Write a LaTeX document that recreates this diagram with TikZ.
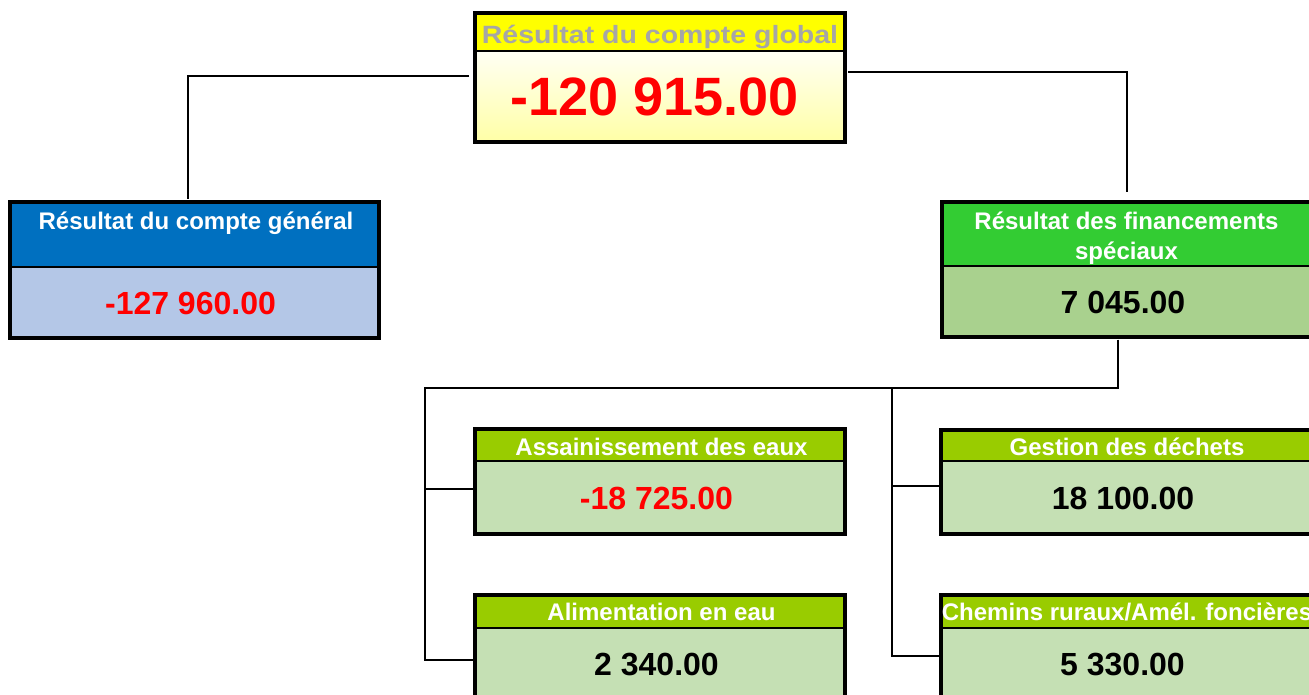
\documentclass[tikz,border=0pt]{standalone}
\usepackage{fontspec}
\setmainfont{Liberation Sans}
\usetikzlibrary{calc}
\definecolor{gyellow}{HTML}{FFFF00}
\definecolor{ggray}{HTML}{A6A6A6}
\definecolor{yelTop}{HTML}{FFFFF4}
\definecolor{yelBot}{HTML}{FFFFA6}
\definecolor{blueH}{HTML}{0070C0}
\definecolor{blueV}{HTML}{B4C7E7}
\definecolor{greenH}{HTML}{33CC33}
\definecolor{greenV}{HTML}{A9D18E}
\definecolor{limeH}{HTML}{99CC00}
\definecolor{limeV}{HTML}{C5E0B4}
\definecolor{redT}{HTML}{FF0000}
\tikzset{
  cell/.style={anchor=north west, inner sep=0pt, outer sep=0pt, draw=none, minimum width=370pt},
  rcell/.style={cell, minimum width=373pt},
  frame/.style={line width=3.2pt, draw=black},
  divider/.style={line width=2pt, draw=black},
  conn/.style={line width=2.8pt, draw=black},
  htxt/.style={inner sep=0pt, text=white, font=\fontsize{24}{30.3}\selectfont\bfseries},
  vtxt/.style={inner sep=0pt, font=\fontsize{32}{36}\selectfont\bfseries},
}
\begin{document}
\begin{tikzpicture}[x=1pt,y=-1pt]
\useasboundingbox (0,0) rectangle (1309,695);

% ---------- top box ----------
\node[cell, fill=gyellow, minimum height=38pt] (gH) at (475,13) {};
\node[cell, top color=yelTop, bottom color=yelBot, minimum height=91pt] (gV) at (475,51) {};
\draw[frame] (gH.north west) rectangle (gV.south east);
\draw[divider] (gH.south west) -- (gH.south east);
\node[htxt, text=ggray, anchor=base, font=\fontsize{25}{30}\selectfont\bfseries] (gHt) at ($(gH.north)+(0,30.3)$) {\scalebox{1.14}[1]{Résultat du compte global}};
\node[vtxt, text=redT, font=\fontsize{54}{60}\selectfont\bfseries] (gVt) at ($(gV.center)+(-5.5,0.5)$) {-120 915.00};

% ---------- left box ----------
\node[cell, fill=blueH, minimum width=369pt, minimum height=65pt] (lH) at (10,202) {};
\node[cell, fill=blueV, minimum width=369pt, minimum height=71pt] (lV) at (10,267) {};
\draw[frame] (lH.north west) rectangle (lV.south east);
\draw[divider] (lH.south west) -- (lH.south east);
\node[htxt, anchor=base] (lHt) at ($(lH.north)+(1.5,27.3)$) {Résultat du compte général};
\node[vtxt, text=redT] (lVt) at ($(lV.center)+(-4,1)$) {-127 960.00};

% ---------- right box ----------
\node[rcell, fill=greenH, minimum height=64pt] (rH) at (942,202) {};
\node[rcell, fill=greenV, minimum height=71pt] (rV) at (942,266) {};
\draw[frame] (rH.north west) rectangle (rV.south east);
\draw[divider] (rH.south west) -- (rH.south east);
\node[htxt, anchor=north, align=center] (rHt) at ($(rH.north)+(-2,9.5)$) {Résultat des financements\\spéciaux};
\node[vtxt] (rVt) at ($(rV.center)+(-5.5,0.5)$) {7 045.00};

% ---------- Assainissement ----------
\node[cell, fill=limeH, minimum height=32pt] (aH) at (475,429) {};
\node[cell, fill=limeV, minimum height=73pt] (aV) at (475,461) {};
\draw[frame] (aH.north west) rectangle (aV.south east);
\draw[divider] (aH.south west) -- (aH.south east);
\node[htxt, anchor=base] (aHt) at ($(aH.north)+(1.5,26)$) {Assainissement des eaux};
\node[vtxt, text=redT] (aVt) at ($(aV.center)+(-3.5,0.5)$) {-18 725.00};

% ---------- Gestion ----------
\node[rcell, fill=limeH, minimum height=31pt] (eH) at (941,430) {};
\node[rcell, fill=limeV, minimum height=73pt] (eV) at (941,461) {};
\draw[frame] (eH.north west) rectangle (eV.south east);
\draw[divider] (eH.south west) -- (eH.south east);
\node[htxt, anchor=base] (eHt) at ($(eH.north)+(-0.5,25)$) {Gestion des déchets};
\node[vtxt] (eVt) at ($(eV.center)+(-4.5,0.5)$) {18 100.00};

% ---------- Alimentation ----------
\node[cell, fill=limeH, minimum height=33pt] (fH) at (475,595) {};
\node[cell, fill=limeV, minimum height=75pt] (fV) at (475,628) {};
\draw[frame] (fH.north west) rectangle (fV.south east);
\draw[divider] (fH.south west) -- (fH.south east);
\node[htxt, anchor=base] (fHt) at ($(fH.north)+(1.5,25.7)$) {Alimentation en eau};
\node[vtxt] (fVt) at ($(fV.north)+(-3.5,37)$) {2 340.00};

% ---------- Chemins ----------
\node[rcell, fill=limeH, minimum height=33pt] (cH) at (941,595) {};
\node[rcell, fill=limeV, minimum height=75pt] (cV) at (941,628) {};
\draw[frame] (cH.north west) rectangle (cV.south east);
\draw[divider] (cH.south west) -- (cH.south east);
\node[htxt, anchor=base] (cHt) at ($(cH.north)+(-0.5,25)$) {Chemins ruraux/Amél. foncières};
\node[vtxt] (cVt) at ($(cV.north)+(-5,37)$) {5 330.00};

% ---------- connector junctions ----------
\coordinate (tl1) at (469,76);
\coordinate (tl2) at (188,76);
\coordinate (tl3) at (188,199);
\coordinate (tr1) at (848,72);
\coordinate (tr2) at (1127,72);
\coordinate (tr3) at (1127,192);
\coordinate (b0) at (1118,339.5);
\coordinate (b1) at (1118,388);
\coordinate (b2) at (425,388);
\coordinate (b3) at (425,660);
\coordinate (a1) at (425,489);
\coordinate (b4) at (892,388);
\coordinate (b5) at (892,656);
\coordinate (e1) at (892,486);

\draw[conn] (tl1) -- (tl2) -- (tl3);
\draw[conn] (tr1) -- (tr2) -- (tr3);
\draw[conn] (b0) -- (b1) -- (b2) -- (b3) -- (b3 -| fV.west);
\draw[conn] (a1) -- (a1 -| aV.west);
\draw[conn] (b4) -- (b5) -- (b5 -| cV.west);
\draw[conn] (e1) -- (e1 -| eV.west);
\end{tikzpicture}
\end{document}
